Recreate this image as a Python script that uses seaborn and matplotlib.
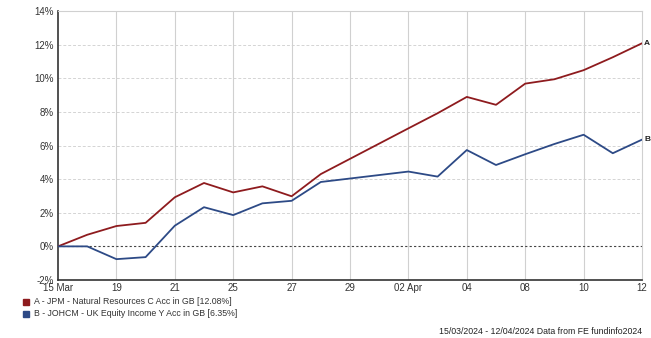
import matplotlib
matplotlib.use("Agg")
import matplotlib.pyplot as plt
from matplotlib.patches import Rectangle
from matplotlib.ticker import FuncFormatter, FixedLocator
import seaborn as sns
import pandas as pd

# ---- data ----
dates = ["2024-03-15", "2024-03-18", "2024-03-19", "2024-03-20", "2024-03-21",
         "2024-03-22", "2024-03-25", "2024-03-26", "2024-03-27", "2024-03-28",
         "2024-04-02", "2024-04-03", "2024-04-04", "2024-04-05", "2024-04-08",
         "2024-04-09", "2024-04-10", "2024-04-11", "2024-04-12"]
series_a = [0.00, 0.69, 1.21, 1.40, 2.92, 3.77, 3.21, 3.57, 2.98, 4.30,
            7.02, 7.92, 8.89, 8.42, 9.68, 9.94, 10.48, 11.25, 12.08]
series_b = [0.00, 0.00, -0.76, -0.64, 1.23, 2.33, 1.86, 2.56, 2.71, 3.83,
            4.45, 4.15, 5.73, 4.84, 5.48, 6.09, 6.64, 5.54, 6.35]
names = ["A - JPM - Natural Resources C Acc in GB [12.08%]",
         "B - JOHCM - UK Equity Income Y Acc in GB [6.35%]"]
short = ["A", "B"]
colors = ["#8E1B1E", "#2D4A86"]
tick_labels = ["15 Mar", "19", "21", "25", "27", "29", "02 Apr", "04", "08", "10", "12"]
y_ticks = [-2, 0, 2, 4, 6, 8, 10, 12, 14]
footer = "15/03/2024 - 12/04/2024 Data from FE fundinfo2024"

# business-day slots (holidays keep their slot on the axis)
bdays = pd.bdate_range(dates[0], dates[-1])
slot = {d: i for i, d in enumerate(bdays)}
xpos = [slot[pd.Timestamp(d)] for d in dates]

df = pd.concat([
    pd.DataFrame({"x": xpos, "y": series_a, "s": short[0]}),
    pd.DataFrame({"x": xpos, "y": series_b, "s": short[1]}),
])

sns.set_style("white")
plt.rcParams["font.family"] = ["Liberation Sans", "DejaVu Sans"]

W, H = 651, 338
fig = plt.figure(figsize=(W / 100, H / 100), dpi=100)
ax = fig.add_axes([58 / W, (H - 280) / H, (642 - 58) / W, (280 - 11) / H])

# grid
ax.set_xlim(0, len(bdays) - 1)
ax.set_ylim(y_ticks[0], y_ticks[-1])
ax.xaxis.set_major_locator(FixedLocator(list(range(0, len(bdays), 2))))
ax.set_xticklabels(tick_labels)
ax.yaxis.set_major_locator(FixedLocator(y_ticks))
ax.yaxis.set_major_formatter(FuncFormatter(lambda v, p: f"{v:.0f}%"))
for yv in y_ticks:
    if yv == 0:
        ax.axhline(0, color="#444444", lw=0.8, ls=(0, (2, 2)), zorder=1)
    elif yv not in (y_ticks[0], y_ticks[-1]):
        ax.axhline(yv, color="#d4d4d4", lw=0.7, ls=(0, (3, 2)), zorder=0)
for xv in range(2, len(bdays) - 1, 2):
    ax.axvline(xv, color="#d0d0d0", lw=0.8, zorder=0)

sns.lineplot(data=df, x="x", y="y", hue="s", palette=colors, lw=1.3,
             ax=ax, legend=False, zorder=3)

# end labels
for s, vals in zip(short, [series_a, series_b]):
    ax.annotate(s, xy=(xpos[-1], vals[-1]), xytext=(1.5, 0), textcoords="offset points",
                ha="left", va="center", fontsize=6, fontweight="bold",
                color="#222222", annotation_clip=False)

ax.set_xlabel("")
ax.set_ylabel("")
ax.tick_params(axis="y", length=0, labelsize=7, colors="#333333", pad=3)
ax.tick_params(axis="x", length=0, labelsize=7, colors="#333333", pad=2)
for side in ["top", "right"]:
    ax.spines[side].set_color("#d0d0d0")
    ax.spines[side].set_linewidth(0.8)
ax.spines["left"].set_color("#333333")
ax.spines["left"].set_linewidth(1.2)
ax.spines["bottom"].set_color("#333333")
ax.spines["bottom"].set_linewidth(1.2)

# legend
for i, (nm, c) in enumerate(zip(names, colors)):
    yc = 302 + i * 12
    fig.add_artist(Rectangle((23 / W, (H - yc - 3) / H), 6 / W, 6 / H,
                             transform=fig.transFigure, color=c))
    fig.text(34 / W, (H - yc) / H, nm, fontsize=6.3, va="center", ha="left",
             color="#333333")

fig.text(642 / W, (H - 332) / H, footer, fontsize=6.3, ha="right", va="center",
         color="#222222")

fig.savefig("out.png", dpi=100)
